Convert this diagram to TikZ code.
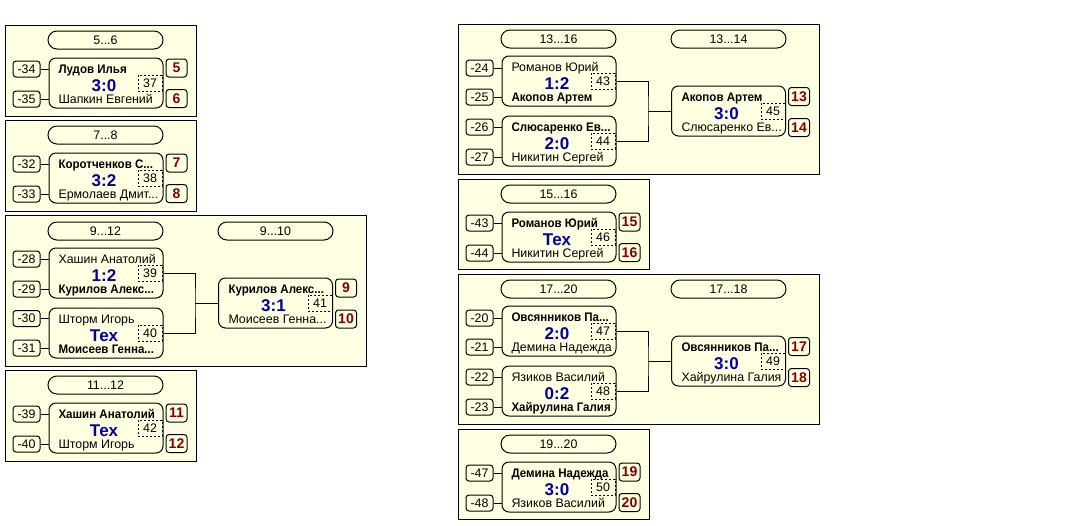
\documentclass[tikz,border=0pt]{standalone}
\usepackage{fontspec}
\setmainfont{Liberation Sans}
\newfontfamily\narrowsans[FakeStretch=0.93]{Liberation Sans}
\usepackage{tikz}
\definecolor{paper}{RGB}{255,255,225}
\definecolor{scoreblue}{RGB}{0,0,160}
\definecolor{placered}{RGB}{128,0,0}
\newcommand{\namefont}{\fontsize{12.4}{14}\selectfont}
\newcommand{\scorefont}{\fontsize{17}{18}\selectfont\bfseries}
\newcommand{\placefont}{\fontsize{14}{16}\selectfont\bfseries}
\tikzstyle{panel}=[draw=black, fill=paper]
\tikzstyle{head}=[draw=black, fill=paper, rounded corners=9pt, minimum width=115pt, minimum height=18pt, inner sep=0pt, font=\namefont]
\tikzstyle{match}=[draw=black, fill=paper, rounded corners=7pt, minimum width=114pt, minimum height=50pt, inner sep=0pt]
\tikzstyle{gid}=[draw=black, dash pattern=on 2pt off 2pt, minimum width=24pt, minimum height=16pt, inner sep=0pt, font=\namefont]
\tikzstyle{seed}=[draw=black, fill=paper, rounded corners=3pt, minimum width=27pt, minimum height=16pt, inner sep=0pt, font=\namefont]
\tikzstyle{place}=[draw=black, fill=paper, rounded corners=3pt, minimum width=21pt, minimum height=18pt, inner sep=0pt, font=\placefont, text=placered]
\tikzstyle{player}=[anchor=base west, inner sep=0pt, font=\namefont]
\tikzstyle{winner}=[anchor=base west, inner sep=0pt, font=\narrowsans\namefont\bfseries]
\tikzstyle{score}=[anchor=base, inner sep=0pt, font=\scorefont, text=scoreblue]

\begin{document}
\begin{tikzpicture}[x=1pt, y=-1pt, line width=1pt]
\useasboundingbox (0,0) rectangle (1065,525);

% 5...6
\begin{scope}[shift={(5,25)}]
  \draw[panel] (0,0) rectangle (191,91);
  \node[head] (h56) at (100.5,15) {5...6};
  \node[match] (m37) at (101,58) {};
  \node[gid] (g37) at (145,58) {37};
  \node[winner] (a37) at (53,48) {Лудов Илья};
  \node[score] (r37) at (99,66) {3:0};
  \node[player] (b37) at (53,78) {Шапкин Евгений};
  \node[seed] (s34) at (21.5,44) {-34};
  \node[seed] (s35) at (21.5,74) {-35};
  \node[place] (p5) at (171.5,43) {5};
  \node[place] (p6) at (171.5,73.5) {6};
  \draw (s34) -- (s34 -| m37.west);
  \draw (s35) -- (s35 -| m37.west);
\end{scope}

% 7...8
\begin{scope}[shift={(5,120)}]
  \draw[panel] (0,0) rectangle (191,91);
  \node[head] (h78) at (100.5,15) {7...8};
  \node[match] (m38) at (101,58) {};
  \node[gid] (g38) at (145,58) {38};
  \node[winner] (a38) at (53,48) {Коротченков С...};
  \node[score] (r38) at (99,66) {3:2};
  \node[player] (b38) at (53,78) {Ермолаев Дмит...};
  \node[seed] (s32) at (21.5,44) {-32};
  \node[seed] (s33) at (21.5,74) {-33};
  \node[place] (p7) at (171.5,43) {7};
  \node[place] (p8) at (171.5,73.5) {8};
  \draw (s32) -- (s32 -| m38.west);
  \draw (s33) -- (s33 -| m38.west);
\end{scope}

% 9...12
\begin{scope}[shift={(5,215)}]
  \draw[panel] (0,0) rectangle (361,151);
  \node[head] (h912) at (100.5,16) {9...12};
  \node[head] (h910) at (270.5,16) {9...10};
  \node[match] (m39) at (101,58) {};
  \node[gid] (g39) at (145,58) {39};
  \node[player] (a39) at (53,48) {Хашин Анатолий};
  \node[score] (r39) at (99,66) {1:2};
  \node[winner] (b39) at (53,78) {Курилов Алекс...};
  \node[match] (m40) at (101,118) {};
  \node[gid] (g40) at (145,118) {40};
  \node[player] (a40) at (53,108) {Шторм Игорь};
  \node[score] (r40) at (99,126) {Тех};
  \node[winner] (b40) at (53,138) {Моисеев Генна...};
  \node[match] (m41) at (270.5,88) {};
  \node[gid] (g41) at (315,88) {41};
  \node[winner] (a41) at (223,78) {Курилов Алекс...};
  \node[score] (r41) at (268.5,96) {3:1};
  \node[player] (b41) at (223,108) {Моисеев Генна...};
  \node[seed] (s28) at (21.5,44) {-28};
  \node[seed] (s29) at (21.5,74) {-29};
  \node[seed] (s30) at (21.5,103.5) {-30};
  \node[seed] (s31) at (21.5,133) {-31};
  \node[place] (p9) at (341,73) {9};
  \node[place] (p10) at (341,104) {10};
  \coordinate (j41) at (190,88);
  \draw (s28) -- (s28 -| m39.west);
  \draw (s29) -- (s29 -| m39.west);
  \draw (s30) -- (s30 -| m40.west);
  \draw (s31) -- (s31 -| m40.west);
  \draw (m39.east) -| (j41) |- (m40.east);
  \draw (j41) -- (m41.west);
\end{scope}

% 11...12
\begin{scope}[shift={(5,370)}]
  \draw[panel] (0,0) rectangle (191,91);
  \node[head] (h1112) at (100.5,15) {11...12};
  \node[match] (m42) at (101,58) {};
  \node[gid] (g42) at (145,58) {42};
  \node[winner] (a42) at (53,48) {Хашин Анатолий};
  \node[score] (r42) at (99,66) {Тех};
  \node[player] (b42) at (53,78) {Шторм Игорь};
  \node[seed] (s39) at (21.5,44) {-39};
  \node[seed] (s40) at (21.5,74) {-40};
  \node[place] (p11) at (171.5,43) {11};
  \node[place] (p12) at (171.5,73.5) {12};
  \draw (s39) -- (s39 -| m42.west);
  \draw (s40) -- (s40 -| m42.west);
\end{scope}

% 13...16
\begin{scope}[shift={(458,24)}]
  \draw[panel] (0,0) rectangle (361,150);
  \node[head] (h1316) at (100.5,15) {13...16};
  \node[head] (h1314) at (270.5,15) {13...14};
  \node[match] (m43) at (101,57) {};
  \node[gid] (g43) at (145,57) {43};
  \node[player] (a43) at (53,47) {Романов Юрий};
  \node[score] (r43) at (99,65) {1:2};
  \node[winner] (b43) at (53,77) {Акопов Артем};
  \node[match] (m44) at (101,117) {};
  \node[gid] (g44) at (145,117) {44};
  \node[winner] (a44) at (53,107) {Слюсаренко Ев...};
  \node[score] (r44) at (99,125) {2:0};
  \node[player] (b44) at (53,137) {Никитин Сергей};
  \node[match] (m45) at (270.5,87) {};
  \node[gid] (g45) at (315,87) {45};
  \node[winner] (a45) at (223,77) {Акопов Артем};
  \node[score] (r45) at (268.5,95) {3:0};
  \node[player] (b45) at (223,107) {Слюсаренко Ев...};
  \node[seed] (s24) at (21.5,44) {-24};
  \node[seed] (s25) at (21.5,73) {-25};
  \node[seed] (s26) at (21.5,103) {-26};
  \node[seed] (s27) at (21.5,133) {-27};
  \node[place] (p13) at (341,72.5) {13};
  \node[place] (p14) at (341,103.5) {14};
  \coordinate (j45) at (190,87);
  \draw (s24) -- (s24 -| m43.west);
  \draw (s25) -- (s25 -| m43.west);
  \draw (s26) -- (s26 -| m44.west);
  \draw (s27) -- (s27 -| m44.west);
  \draw (m43.east) -| (j45) |- (m44.east);
  \draw (j45) -- (m45.west);
\end{scope}

% 15...16
\begin{scope}[shift={(458,179)}]
  \draw[panel] (0,0) rectangle (191,90);
  \node[head] (h1516) at (100.5,15) {15...16};
  \node[match] (m46) at (101,58) {};
  \node[gid] (g46) at (145,58) {46};
  \node[winner] (a46) at (53,48) {Романов Юрий};
  \node[score] (r46) at (99,66) {Тех};
  \node[player] (b46) at (53,78) {Никитин Сергей};
  \node[seed] (s43) at (21.5,44) {-43};
  \node[seed] (s44) at (21.5,74) {-44};
  \node[place] (p15) at (171.5,43) {15};
  \node[place] (p16) at (171.5,73.5) {16};
  \draw (s43) -- (s43 -| m46.west);
  \draw (s44) -- (s44 -| m46.west);
\end{scope}

% 17...20
\begin{scope}[shift={(458,274)}]
  \draw[panel] (0,0) rectangle (361,150);
  \node[head] (h1720) at (100.5,15) {17...20};
  \node[head] (h1718) at (270.5,15) {17...18};
  \node[match] (m47) at (101,57) {};
  \node[gid] (g47) at (145,57) {47};
  \node[winner] (a47) at (53,47) {Овсянников Па...};
  \node[score] (r47) at (99,65) {2:0};
  \node[player] (b47) at (53,77) {Демина Надежда};
  \node[match] (m48) at (101,117) {};
  \node[gid] (g48) at (145,117) {48};
  \node[player] (a48) at (53,107) {Язиков Василий};
  \node[score] (r48) at (99,125) {0:2};
  \node[winner] (b48) at (53,137) {Хайрулина Галия};
  \node[match] (m49) at (270.5,87) {};
  \node[gid] (g49) at (315,87) {49};
  \node[winner] (a49) at (223,77) {Овсянников Па...};
  \node[score] (r49) at (268.5,95) {3:0};
  \node[player] (b49) at (223,107) {Хайрулина Галия};
  \node[seed] (s20) at (21.5,44) {-20};
  \node[seed] (s21) at (21.5,73) {-21};
  \node[seed] (s22) at (21.5,103) {-22};
  \node[seed] (s23) at (21.5,133) {-23};
  \node[place] (p17) at (341,72.5) {17};
  \node[place] (p18) at (341,103.5) {18};
  \coordinate (j49) at (190,87);
  \draw (s20) -- (s20 -| m47.west);
  \draw (s21) -- (s21 -| m47.west);
  \draw (s22) -- (s22 -| m48.west);
  \draw (s23) -- (s23 -| m48.west);
  \draw (m47.east) -| (j49) |- (m48.east);
  \draw (j49) -- (m49.west);
\end{scope}

% 19...20
\begin{scope}[shift={(458,429)}]
  \draw[panel] (0,0) rectangle (191,90);
  \node[head] (h1920) at (100.5,15) {19...20};
  \node[match] (m50) at (101,58) {};
  \node[gid] (g50) at (145,58) {50};
  \node[winner] (a50) at (53,48) {Демина Надежда};
  \node[score] (r50) at (99,66) {3:0};
  \node[player] (b50) at (53,78) {Язиков Василий};
  \node[seed] (s47) at (21.5,44) {-47};
  \node[seed] (s48) at (21.5,74) {-48};
  \node[place] (p19) at (171.5,43) {19};
  \node[place] (p20) at (171.5,73.5) {20};
  \draw (s47) -- (s47 -| m50.west);
  \draw (s48) -- (s48 -| m50.west);
\end{scope}

\end{tikzpicture}
\end{document}
